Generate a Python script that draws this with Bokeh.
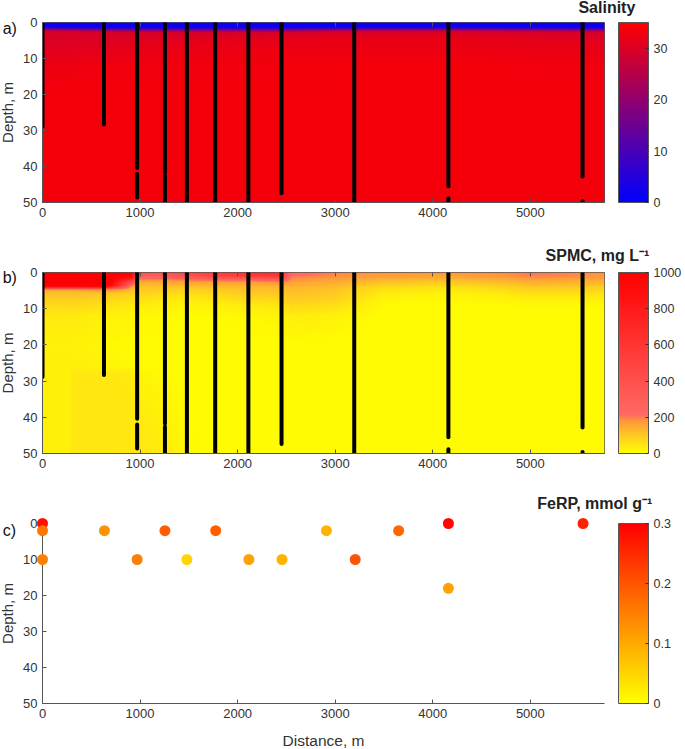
import numpy as np
from bokeh.plotting import figure
from bokeh.models import (Range1d, LinearColorMapper, ColorBar, FixedTicker,
                          LinearAxis, ColumnDataSource)
from bokeh.layouts import column
from bokeh.embed import file_html
from bokeh.resources import INLINE
from bokeh.core.properties import value

FONT = "Liberation Sans"

# ---------------- data ----------------
x_ticks = [0, 1000, 2000, 3000, 4000, 5000]
depth_ticks = [0, 10, 20, 30, 40, 50]
x_max = 5760
depth_max = 50

# CTD casts (black vertical lines), with gaps
cast_x = [0, 630, 970, 970, 1255, 1255, 1480, 1770, 2110, 2450, 3195, 4160, 4160, 5535, 5535]
cast_top = [0, 0, 0, 42.0, 0, 42.6, 0, 0, 0, 0, 0, 0, 48.8, 0, 49.6]
cast_bot = [28.9, 28.3, 40.4, 48.6, 41.8, 50, 50, 50, 50, 47.4, 50, 45.5, 50, 42.8, 50]

# Salinity section (coarse grid)
sal_x = [0, 600, 1200, 2400, 3000, 4200, 5500, 5760]
sal_d = [0, 1.2, 1.7, 2.2, 2.8, 4, 7, 12, 20, 50]
sal_grid = [
    [1, 1, 1, 1, 1, 1, 1, 1],
    [2, 2, 2, 2, 2, 2, 2, 2],
    [12, 6, 5, 5, 8, 10, 6, 6],
    [27, 22, 20, 20, 25, 25, 22, 22],
    [29.5, 29.5, 29.5, 29.5, 30, 30, 29.5, 29.5],
    [30, 30, 30.5, 31, 31.5, 31.5, 30.5, 30.5],
    [30.5, 31, 32, 32.5, 32.5, 32.5, 32, 31.5],
    [32.5, 33, 33, 33.2, 33.5, 33.5, 33, 33],
    [33.5, 33.5, 33.5, 33.5, 33.5, 33.5, 33.5, 33.5],
    [33.5, 33.5, 33.5, 33.5, 33.5, 33.5, 33.5, 33.5],
]
sal_ticks = [0, 10, 20, 30]

# SPMC section, mg/L (coarse grid)
sp_x = [0, 280, 300, 630, 700, 900, 1000, 1250, 1470, 1770, 2110, 2440, 2550, 3000, 3500, 4170, 4700, 5000, 5400, 5760]
sp_d = [0, 1, 2, 2.5, 3.5, 4.0, 4.6, 5.5, 7, 9, 12, 20, 26, 28, 40, 50]
sp_grid = [
    [1000, 1000, 1000, 1000, 1000, 1000, 420, 380, 450, 550, 650, 650, 240, 200, 180, 180, 190, 210, 200, 180],
    [1000, 1000, 1000, 1000, 1000, 950, 280, 320, 380, 480, 560, 600, 210, 185, 165, 160, 175, 195, 190, 175],
    [1000, 1000, 1000, 1000, 1000, 700, 180, 190, 210, 230, 240, 280, 180, 165, 135, 125, 145, 165, 160, 155],
    [1000, 1000, 1000, 1000, 1000, 450, 150, 160, 170, 175, 180, 195, 165, 150, 115, 105, 125, 145, 140, 135],
    [1000, 1000, 1000, 1000, 950, 230, 120, 125, 130, 135, 140, 150, 145, 130, 85, 75, 95, 115, 115, 110],
    [950, 950, 950, 1000, 800, 180, 110, 110, 110, 120, 125, 135, 135, 120, 70, 60, 80, 100, 105, 95],
    [170, 170, 170, 220, 200, 130, 100, 100, 90, 100, 115, 120, 125, 110, 55, 45, 65, 85, 90, 80],
    [120, 120, 120, 120, 110, 95, 85, 80, 65, 80, 100, 105, 115, 100, 40, 30, 45, 65, 65, 60],
    [95, 95, 95, 90, 80, 70, 60, 50, 40, 55, 75, 80, 100, 90, 22, 18, 25, 35, 35, 35],
    [70, 70, 70, 60, 50, 40, 35, 30, 20, 30, 40, 50, 75, 60, 12, 10, 12, 15, 15, 15],
    [40, 40, 40, 30, 25, 20, 15, 15, 10, 12, 15, 20, 35, 25, 8, 8, 8, 8, 8, 8],
    [25, 25, 25, 20, 15, 12, 10, 10, 8, 8, 8, 8, 8, 8, 8, 8, 8, 8, 8, 8],
    [30, 30, 30, 25, 20, 15, 12, 10, 8, 8, 8, 8, 8, 8, 8, 8, 8, 8, 8, 8],
    [30, 30, 45, 45, 45, 40, 20, 12, 8, 8, 8, 8, 8, 8, 8, 8, 8, 8, 8, 8],
    [30, 30, 45, 45, 45, 45, 40, 25, 12, 8, 8, 8, 8, 8, 8, 8, 8, 8, 8, 8],
    [30, 30, 45, 45, 45, 45, 45, 40, 15, 8, 8, 8, 8, 8, 8, 8, 8, 8, 8, 8],
]
sp_ticks = [0, 200, 400, 600, 800, 1000]

# FeRP samples
fe_x = [0, 0, 0, 635, 970, 1255, 1480, 1775, 2115, 2455, 2910, 3205, 3650, 4160, 4160, 5540]
fe_d = [0, 2, 10, 2, 10, 2, 10, 2, 10, 10, 2, 10, 2, 0, 18, 0]
fe_v = [0.28, 0.16, 0.15, 0.13, 0.15, 0.19, 0.05, 0.19, 0.11, 0.09, 0.09, 0.20, 0.18, 0.29, 0.11, 0.26]
fe_ticks = [0, 0.1, 0.2, 0.3]


# ---------------- helpers ----------------
def make_palette(stops, colors, n=256):
    t = np.linspace(stops[0], stops[-1], n)
    c = np.array(colors, float)
    r = np.interp(t, stops, c[:, 0])
    g = np.interp(t, stops, c[:, 1])
    b = np.interp(t, stops, c[:, 2])
    return ["#%02x%02x%02x" % (int(round(a)), int(round(bb)), int(round(cc))) for a, bb, cc in zip(r, g, b)]


def render_grid(xc, dc, grid, nx=565, nd=250):
    xs = (np.arange(nx) + 0.5) * x_max / nx
    ds = (np.arange(nd) + 0.5) * depth_max / nd
    g = np.array(grid, float)
    rows = np.array([np.interp(xs, xc, r) for r in g])
    out = np.array([np.interp(ds, dc, rows[:, j]) for j in range(nx)]).T
    return out


W = 684
L = 42
FRAME_W = 565
R = W - L - FRAME_W
XPX = x_max / FRAME_W  # data units per pixel
AX = "#555555"
TXT = "#333333"


def style_axes(p, box=True):
    p.xaxis.ticker = FixedTicker(ticks=x_ticks)
    p.yaxis.ticker = FixedTicker(ticks=depth_ticks)
    for ax in p.axis:
        ax.major_tick_in = 4
        ax.major_tick_out = 0
        ax.minor_tick_in = 0
        ax.minor_tick_out = 0
        ax.axis_line_color = AX
        ax.major_tick_line_color = AX
        ax.major_label_text_font = FONT
        ax.major_label_text_font_size = "13px"
        ax.major_label_text_color = TXT
        ax.major_label_standoff = 5
    p.xgrid.visible = False
    p.ygrid.visible = False
    if box:
        p.outline_line_color = AX
        top = LinearAxis(ticker=FixedTicker(ticks=x_ticks), major_label_text_color=None,
                         major_label_text_font_size="10px",
                         major_tick_in=4, major_tick_out=0, minor_tick_in=0, minor_tick_out=0,
                         axis_line_color=None, major_tick_line_color=AX, major_label_standoff=0)
        p.add_layout(top, "above")
    else:
        p.outline_line_color = None


def make_fig(height, top, bottom):
    p = figure(width=W, height=height, x_range=Range1d(0, x_max), y_range=Range1d(depth_max, 0),
               output_backend="svg", toolbar_location=None,
               min_border_left=L, min_border_right=R, min_border_top=top, min_border_bottom=bottom)
    p.background_fill_color = "white"
    p.border_fill_color = "white"
    return p


def add_colorbar(p, mapper, ticks, frame_h, overrides=None):
    cb = ColorBar(color_mapper=mapper, ticker=FixedTicker(ticks=ticks), width=30, height=frame_h,
                  location=(14, 0), margin=0, padding=0, label_standoff=5,
                  major_tick_in=3, major_tick_out=0, major_tick_line_color=TXT,
                  bar_line_color=AX, border_line_color=None, background_fill_color=None,
                  major_label_text_font=FONT, major_label_text_font_size="12.5px",
                  major_label_text_color=TXT)
    if overrides:
        cb.major_label_overrides = overrides
    p.add_layout(cb, "right")


def add_text(p, x, y, txt, size, align="left", bold=False, angle=0.0, color=TXT):
    p.text(x=[x], y=[y], text=[txt], text_font=value(FONT), text_font_size=size,
           text_align=align, text_baseline="middle", text_color=color,
           text_font_style="bold" if bold else "normal", angle=angle, level="overlay")


def add_texts(p, tag, tag_y, title, title_right_px, title_y, ypx):
    add_text(p, (2 - L) * XPX, tag_y, tag, "16px", color="#111111")
    add_text(p, (title_right_px - L) * XPX, title_y, title, "16px", align="right", bold=True,
             color="#222222")
    add_text(p, (7 - L) * XPX, 25, "Depth, m", "15px", align="center", angle=np.pi / 2)


# ---------------- panel a: salinity ----------------
sal_pal = make_palette([0, 35], [(0, 0, 255), (255, 0, 0)])
sal_map = LinearColorMapper(palette=sal_pal, low=0, high=35)
pa = make_fig(240, 22, 38)
pa.image(image=[render_grid(sal_x, sal_d, sal_grid)], x=0, y=0, dw=x_max, dh=depth_max, color_mapper=sal_map)
pa.segment(x0=cast_x, y0=cast_top, x1=cast_x, y1=cast_bot, line_width=4, line_color="black", line_cap="round")
style_axes(pa)
add_colorbar(pa, sal_map, sal_ticks, 180)
add_texts(pa, "a)", 6 * 50 / 180, "Salinity", 638, -15 * 50 / 180, 180)

# ---------------- panel b: SPMC ----------------
sp_pal = make_palette([0, 100, 180, 215, 1000],
                      [(255, 255, 0), (255, 200, 35), (255, 150, 60), (255, 105, 100), (255, 0, 0)])
sp_map = LinearColorMapper(palette=sp_pal, low=0, high=1000)
pb = make_fig(248, 32, 35)
pb.image(image=[render_grid(sp_x, sp_d, sp_grid)], x=0, y=0, dw=x_max, dh=depth_max, color_mapper=sp_map)
pb.segment(x0=cast_x, y0=cast_top, x1=cast_x, y1=cast_bot, line_width=4, line_color="black", line_cap="round")
style_axes(pb)
add_colorbar(pb, sp_map, sp_ticks, 181)
add_texts(pb, "b)", 5 * 50 / 181, "SPMC, mg L\u207b\u00b9", 652, -17 * 50 / 181, 181)

# ---------------- panel c: FeRP ----------------
fe_pal = make_palette([0, 0.3], [(255, 255, 0), (255, 0, 0)])
fe_map = LinearColorMapper(palette=fe_pal, low=0, high=0.3)
pc = make_fig(260, 35, 45)
src = ColumnDataSource(dict(x=fe_x, d=fe_d, v=fe_v))
pc.scatter(x="x", y="d", source=src, size=11, line_color=None,
           fill_color={"field": "v", "transform": fe_map}, level="overlay")
style_axes(pc, box=False)
add_colorbar(pc, fe_map, fe_ticks, 180, overrides={0: "0"})
add_texts(pc, "c)", 7 * 50 / 180, "FeRP, mmol g\u207b\u00b9", 655, -20 * 50 / 180, 180)
add_text(pc, x_max / 2, 50 + 37 * 50 / 180, "Distance, m", "15.5px", align="center")

layout = column(pa, pb, pc, spacing=0)
open("out.html", "w").write(file_html(layout, INLINE))
